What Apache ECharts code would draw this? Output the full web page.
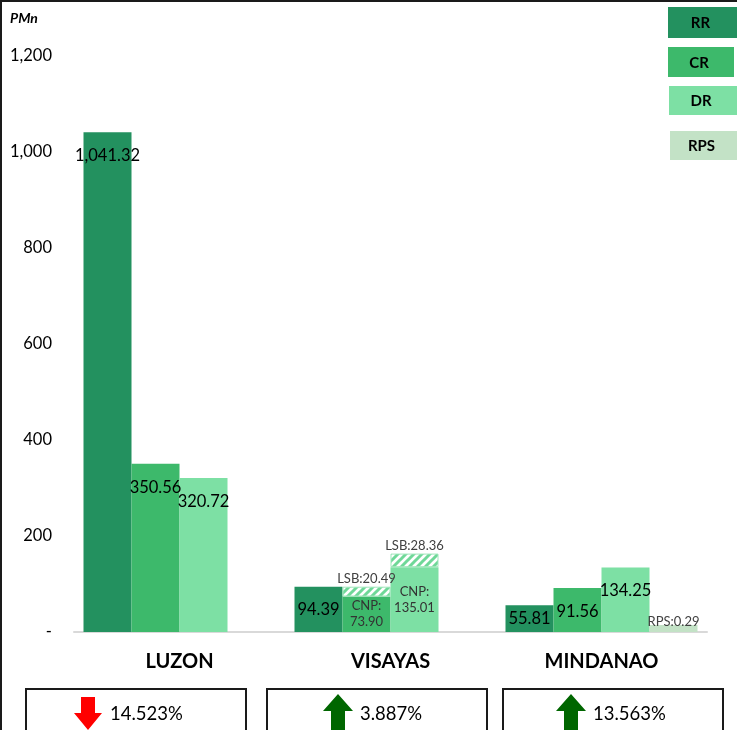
<!DOCTYPE html>
<html>
<head>
<meta charset="utf-8">
<script src="https://cdn.jsdelivr.net/npm/echarts@6/dist/echarts.min.js"></script>
<style>
html,body{margin:0;padding:0;background:#fff;}
#chart{width:737px;height:730px;}
</style>
</head>
<body>
<div id="chart"></div>
<script>
// ---- data ----
const categories = ['LUZON', 'VISAYAS', 'MINDANAO'];
const rr = [1041.32, 94.39, 55.81];
const crCnp = [350.56, 73.90, 91.56];
const crLsb = [null, 20.49, null];
const drCnp = [320.72, 135.01, 134.25];
const drLsb = [null, 28.36, null];
const rps = [null, null, 0.29];
const changes = [-14.523, 3.887, 13.563];
const legendNames = ['RR', 'CR', 'DR', 'RPS'];
const yMin = 0, yMax = 1200, yStep = 200;
const unitLabel = 'PMn';

// ---- styles ----
const FONT = 'Lato, "Open Sans", sans-serif';
const C_RR = '#23915F', C_CR = '#3DB96B', C_DR = '#7DE0A4', C_RPS = '#C3E2C6';
const legendColors = [C_RR, C_CR, C_DR, C_RPS];

function fmt(v) {
  return v.toLocaleString('en-US', {minimumFractionDigits: 2, maximumFractionDigits: 2});
}

function makeHatch() {
  const c = document.createElement('canvas');
  c.width = 8; c.height = 8;
  const ctx = c.getContext('2d');
  ctx.fillStyle = '#ffffff';
  ctx.fillRect(0, 0, 8, 8);
  ctx.strokeStyle = '#6fd898';
  ctx.lineWidth = 3;
  ctx.beginPath();
  ctx.moveTo(-2, 10); ctx.lineTo(10, -2);
  ctx.moveTo(-6, 6); ctx.lineTo(6, -6);
  ctx.moveTo(2, 14); ctx.lineTo(14, 2);
  ctx.stroke();
  return c;
}
const hatch = {image: makeHatch(), repeat: 'repeat'};

const valueLabel = {
  show: true, position: 'insideTop', distance: 15,
  fontFamily: FONT, fontSize: 16.5, color: '#000',
  formatter: p => fmt(p.value)
};

function rrData() {
  return rr.map((v, i) => {
    if (i === 0) return v;
    return {value: v, label: {position: 'inside'}};
  });
}
function cnpData(arr, lsb) {
  return arr.map((v, i) => {
    if (lsb[i] == null) return v;
    return {
      value: v,
      label: {
        position: 'inside', fontSize: 13, lineHeight: 16, color: '#333',
        formatter: p => 'CNP:\n' + fmt(p.value)
      }
    };
  });
}
function smallTopLabel(prefix) {
  return {
    show: true, position: 'top', distance: 1,
    fontFamily: FONT, fontSize: 13, color: '#404040',
    formatter: p => prefix + ':' + fmt(p.value)
  };
}

const series = [
  {name: 'RR', type: 'bar', barWidth: 48, barGap: 0, data: rrData(),
   itemStyle: {color: C_RR}, label: valueLabel},
  {name: 'CR', type: 'bar', stack: 'cr', barWidth: 48, barGap: 0, data: cnpData(crCnp, crLsb),
   itemStyle: {color: C_CR}, label: valueLabel},
  {name: 'CR LSB', type: 'bar', stack: 'cr', barWidth: 48, barGap: 0, data: crLsb,
   itemStyle: {color: hatch, borderColor: '#9fe6bb', borderWidth: 1}, label: smallTopLabel('LSB')},
  {name: 'DR', type: 'bar', stack: 'dr', barWidth: 48, barGap: 0, data: cnpData(drCnp, drLsb),
   itemStyle: {color: C_DR}, label: valueLabel},
  {name: 'DR LSB', type: 'bar', stack: 'dr', barWidth: 48, barGap: 0, data: drLsb,
   itemStyle: {color: hatch, borderColor: '#9fe6bb', borderWidth: 1}, label: smallTopLabel('LSB')},
  {name: 'RPS', type: 'bar', barWidth: 48, barGap: 0, barMinHeight: 7, data: rps,
   itemStyle: {color: C_RPS}, label: Object.assign(smallTopLabel('RPS'), {distance: -3})}
];

// ---- graphics: frame, unit, legend boxes, change boxes ----
const graphics = [];
graphics.push({type: 'rect', shape: {x: 0, y: 0, width: 737, height: 2}, style: {fill: '#1a1a1a'}, silent: true});
graphics.push({type: 'rect', shape: {x: 0, y: 0, width: 2, height: 730}, style: {fill: '#1a1a1a'}, silent: true});
graphics.push({type: 'text', left: 10, top: 11,
  style: {text: unitLabel, font: 'italic bold 14px ' + FONT, fill: '#000'}});

const legendBoxes = [
  {x: 668, y: 7, w: 69, h: 31},
  {x: 668, y: 47, w: 66, h: 30},
  {x: 669, y: 86, w: 68, h: 29},
  {x: 670, y: 131, w: 67, h: 29}
];
legendNames.forEach((n, i) => {
  const b = legendBoxes[i];
  graphics.push({type: 'rect', shape: {x: b.x, y: b.y, width: b.w, height: b.h},
    style: {fill: legendColors[i]}});
  graphics.push({type: 'text', x: b.x + b.w / 2 - 2, y: b.y + b.h / 2 + 1,
    style: {text: n, font: 'bold 15px ' + FONT, fill: '#000', align: 'center', verticalAlign: 'middle'}});
});

const changeBoxes = [
  {x: 26, w: 220, ax: 88},
  {x: 267, w: 220, ax: 338},
  {x: 503, w: 220, ax: 571}
];
changes.forEach((v, i) => {
  const b = changeBoxes[i];
  graphics.push({type: 'rect', shape: {x: b.x, y: 689, width: b.w, height: 60},
    style: {fill: '#fff', stroke: '#1a1a1a', lineWidth: 2}});
  const cx = b.ax;
  let pts;
  if (v < 0) {
    const t = 697;
    pts = [[cx - 7, t], [cx + 7, t], [cx + 7, t + 16], [cx + 14, t + 16], [cx, t + 33], [cx - 14, t + 16], [cx - 7, t + 16]];
  } else {
    const t = 694;
    pts = [[cx, t], [cx + 15, t + 17], [cx + 7, t + 17], [cx + 7, t + 40], [cx - 7, t + 40], [cx - 7, t + 17], [cx - 15, t + 17]];
  }
  graphics.push({type: 'polygon', shape: {points: pts},
    style: {fill: v < 0 ? '#ff0000' : '#006600'}});
  graphics.push({type: 'text', x: cx + 22, y: 714,
    style: {text: Math.abs(v).toFixed(3) + '%', font: '18.5px ' + FONT, fill: '#000', verticalAlign: 'middle'}});
});

const chart = echarts.init(document.getElementById('chart'), null, {renderer: 'canvas'});
chart.setOption({
  animation: false,
  backgroundColor: '#fff',
  grid: {left: 74, right: 30, top: 56, bottom: 98, containLabel: false},
  xAxis: {
    type: 'category', data: categories,
    axisLine: {lineStyle: {color: '#d9d9d9', width: 2}},
    axisTick: {show: false},
    axisLabel: {fontFamily: FONT, fontSize: 20, fontWeight: 'bold', color: '#000', margin: 20}
  },
  yAxis: {
    type: 'value', min: yMin, max: yMax, interval: yStep,
    splitLine: {show: false}, axisLine: {show: false}, axisTick: {show: false},
    axisLabel: {fontFamily: FONT, fontSize: 16.5, color: '#000', margin: 22,
      formatter: v => v === 0 ? '-' : v.toLocaleString('en-US')}
  },
  series: series,
  graphic: graphics
});
</script>
</body>
</html>
